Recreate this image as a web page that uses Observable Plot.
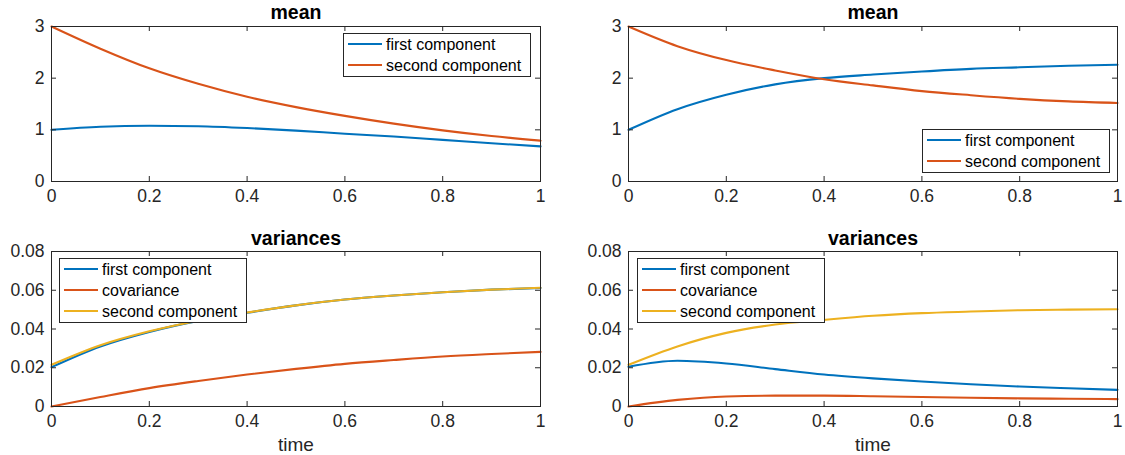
<!DOCTYPE html>
<html><head><meta charset="utf-8">
<script src="https://cdn.jsdelivr.net/npm/d3@7"></script>
<script src="https://cdn.jsdelivr.net/npm/@observablehq/plot@0.6"></script>
<style>
body{margin:0;background:#fff;}
#fig{position:relative;width:1125px;height:455px;background:#fff;font-family:"Liberation Sans",Arial,Helvetica,sans-serif;overflow:hidden}
.panel{position:absolute}
.legend{position:absolute}
</style></head><body><div id="fig"></div>
<script>
// ---- data ----
const time = [0, 0.1, 0.2, 0.3, 0.4, 0.5, 0.6, 0.7, 0.8, 0.9, 1];
const xTicks = [0, 0.2, 0.4, 0.6, 0.8, 1];
const meanTicks = [0, 1, 2, 3];
const varTicks = [0, 0.02, 0.04, 0.06, 0.08];

const meanLeftFirst   = [1.0, 1.06, 1.08, 1.07, 1.035, 0.985, 0.925, 0.87, 0.805, 0.74, 0.68];
const meanLeftSecond  = [3.0, 2.57, 2.19, 1.89, 1.64, 1.44, 1.27, 1.12, 0.99, 0.88, 0.79];
const meanRightFirst  = [1.0, 1.40, 1.68, 1.88, 2.0, 2.07, 2.13, 2.18, 2.21, 2.24, 2.26];
const meanRightSecond = [3.0, 2.62, 2.35, 2.15, 1.98, 1.86, 1.75, 1.67, 1.6, 1.55, 1.52];

const varLeftFirst  = [0.0203, 0.031, 0.0385, 0.0442, 0.0484, 0.0522, 0.0552, 0.0573, 0.059, 0.0603, 0.0612];
const varLeftCov    = [0, 0.0049, 0.0095, 0.0132, 0.0165, 0.0194, 0.022, 0.024, 0.0258, 0.0271, 0.0282];
const varLeftSecond = [0.0215, 0.0316, 0.0388, 0.0443, 0.0485, 0.0522, 0.0552, 0.0573, 0.059, 0.0603, 0.0613];

const varRightFirst  = [0.0205, 0.0236, 0.0222, 0.0193, 0.0165, 0.0145, 0.0129, 0.0115, 0.0103, 0.0094, 0.0086];
const varRightCov    = [0, 0.0034, 0.0052, 0.0056, 0.0056, 0.0053, 0.0049, 0.0045, 0.0042, 0.004, 0.0038];
const varRightSecond = [0.0215, 0.031, 0.038, 0.0423, 0.0447, 0.0468, 0.0482, 0.049, 0.0497, 0.05, 0.0502];

const meanSeries = ["first component", "second component"];
const varSeries = ["first component", "covariance", "second component"];
const lineColors = ["#0072BD", "#D95319", "#EDB120"];

// ---- layout ----
const INK = "#262626";
const FONT = "'Liberation Sans', Arial, Helvetica, sans-serif";

function rows(names, lists) {
  const out = [];
  names.forEach((name, k) => lists[k].forEach((v, i) => out.push({time: time[i], value: v, series: name})));
  return out;
}

const panels = [
  {title: "mean", xlabel: null, left: 0, top: 0, width: 562, height: 227,
   m: {left: 51, right: 22, top: 26, bottom: 46}, yDomain: [0, 3], yTicks: meanTicks,
   names: meanSeries, data: rows(meanSeries, [meanLeftFirst, meanLeftSecond]),
   legend: {left: 343, top: 33}},
  {title: "mean", xlabel: null, left: 562, top: 0, width: 563, height: 227,
   m: {left: 66, right: 8, top: 26, bottom: 46}, yDomain: [0, 3], yTicks: meanTicks,
   names: meanSeries, data: rows(meanSeries, [meanRightFirst, meanRightSecond]),
   legend: {left: 922, top: 129}},
  {title: "variances", xlabel: "time", left: 0, top: 227, width: 562, height: 228,
   m: {left: 51, right: 22, top: 24, bottom: 49}, yDomain: [0, 0.08], yTicks: varTicks,
   names: varSeries, data: rows(varSeries, [varLeftFirst, varLeftCov, varLeftSecond]),
   legend: {left: 59, top: 258}},
  {title: "variances", xlabel: "time", left: 562, top: 227, width: 563, height: 228,
   m: {left: 66, right: 8, top: 24, bottom: 49}, yDomain: [0, 0.08], yTicks: varTicks,
   names: varSeries, data: rows(varSeries, [varRightFirst, varRightCov, varRightSecond]),
   legend: {left: 637, top: 258}}
];

const fig = document.getElementById("fig");
const fmt = d3.format("~g");

for (const p of panels) {
  const innerW = p.width - p.m.left - p.m.right;
  const innerH = p.height - p.m.top - p.m.bottom;
  const colors = lineColors.slice(0, p.names.length);
  const marks = [
    Plot.line(p.data, {x: "time", y: "value", z: "series", stroke: "series", strokeWidth: 2.1, curve: "monotone-x"}),
    Plot.frame({stroke: INK, strokeWidth: 1}),
    // inward ticks on all four sides (MATLAB box style)
    Plot.tickX(xTicks, {x: d => d, stroke: INK, insetTop: innerH - 5}),
    Plot.tickX(xTicks, {x: d => d, stroke: INK, insetBottom: innerH - 5}),
    Plot.tickY(p.yTicks, {y: d => d, stroke: INK, insetRight: innerW - 5}),
    Plot.tickY(p.yTicks, {y: d => d, stroke: INK, insetLeft: innerW - 5}),
    Plot.axisX({ticks: xTicks, tickSize: 0, tickPadding: 8, tickFormat: fmt, fontSize: 17.5, fill: INK, label: null}),
    Plot.axisY({ticks: p.yTicks, tickSize: 0, tickPadding: 7, tickFormat: fmt, fontSize: 17.5, fill: INK, label: null}),
    Plot.text([p.title], {text: d => d, frameAnchor: "top", lineAnchor: "middle", dy: p.top === 0 ? -14 : -13, fontWeight: "bold", fontSize: 19.5, fill: "#000"})
  ];
  if (p.xlabel) marks.push(Plot.text([p.xlabel], {text: d => d, frameAnchor: "bottom", lineAnchor: "middle", dy: 38, fontSize: 19, fill: INK}));
  const chart = Plot.plot({
    width: p.width, height: p.height,
    marginLeft: p.m.left, marginRight: p.m.right, marginTop: p.m.top, marginBottom: p.m.bottom,
    x: {domain: [0, 1], label: null},
    y: {domain: p.yDomain, label: null},
    color: {domain: p.names, range: colors},
    style: {fontFamily: FONT, fontSize: "17.5px", color: INK, background: "transparent", overflow: "visible"},
    marks
  });
  chart.classList.add("panel");
  chart.style.left = p.left + "px";
  chart.style.top = p.top + "px";
  fig.appendChild(chart);

  // legend box
  const n = p.names.length;
  const lw = 188, lh = 11 + 21 * (n - 1) + 12;
  const svg = d3.create("svg").attr("class", "legend").attr("width", lw).attr("height", lh)
    .style("left", p.legend.left + "px").style("top", p.legend.top + "px");
  svg.append("rect").attr("x", 0.5).attr("y", 0.5).attr("width", lw - 1).attr("height", lh - 1)
    .attr("fill", "#fff").attr("stroke", INK).attr("stroke-width", 1);
  p.names.forEach((name, i) => {
    const y = 11 + 21 * i;
    svg.append("line").attr("x1", 5).attr("x2", 39).attr("y1", y).attr("y2", y)
      .attr("stroke", colors[i]).attr("stroke-width", 2.1);
    svg.append("text").attr("x", 43).attr("y", y).attr("dy", "0.35em")
      .attr("font-family", FONT).attr("font-size", 16).attr("fill", "#000").text(name);
  });
  fig.appendChild(svg.node());
}
</script>
</body></html>
